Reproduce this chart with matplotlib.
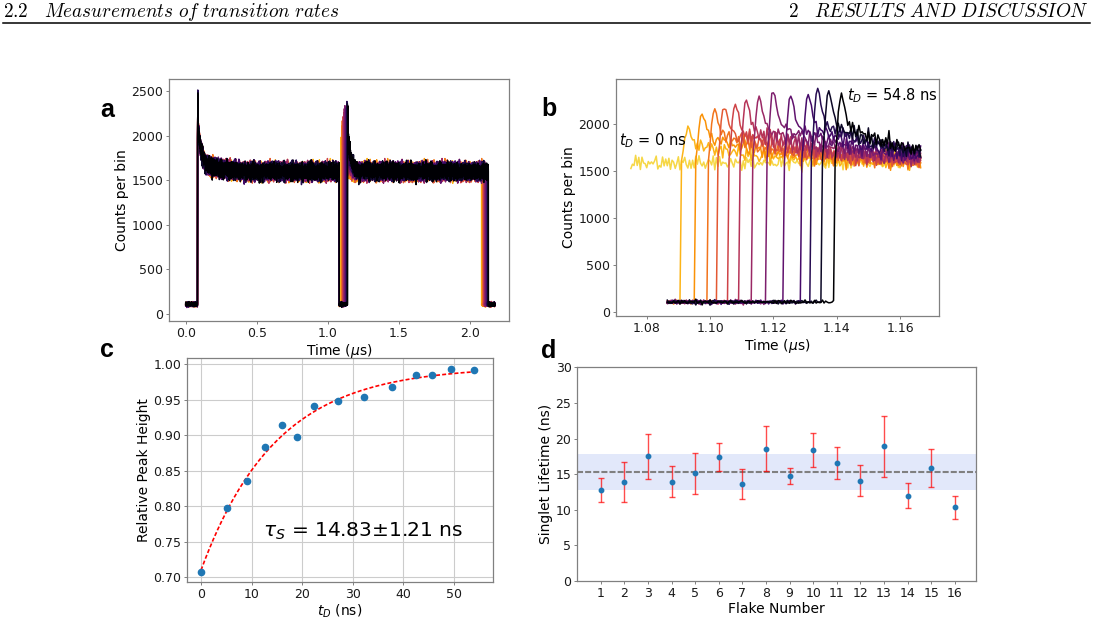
import numpy as np
import matplotlib

matplotlib.use("Agg")
import matplotlib.pyplot as plt
from matplotlib.lines import Line2D

# ---- panel c: relative peak height vs delay ----
t_delay_ns = [0.07, 5.07, 9.09, 12.58, 16.0, 19.04, 22.27, 27.14, 32.2, 37.75, 42.5, 45.65, 49.34, 54.02]
rel_peak = [0.708, 0.798, 0.835, 0.884, 0.915, 0.898, 0.941, 0.949, 0.954, 0.968, 0.985, 0.985, 0.993, 0.992]
fit_tau, fit_err, fit_amp, fit_top, fit_tmax = 14.83, 1.21, 0.287, 0.997, 54.8

# ---- panel d: singlet lifetime per flake ----
flake = list(range(1, 17))
lifetime = [12.79, 13.91, 17.50, 13.91, 15.12, 17.41, 13.67, 18.57,
            14.75, 18.39, 16.57, 14.09, 18.90, 11.99, 15.91, 10.37]
lifetime_err = [1.63, 2.83, 3.15, 2.17, 2.87, 1.90, 2.12, 3.12,
                1.17, 2.43, 2.24, 2.17, 4.27, 1.73, 2.66, 1.60]
mean_lifetime, band_lo, band_hi = 15.27, 12.72, 17.82

# ---- panels a/b: photon count traces ----
rise_us = [1.0911, 1.0955, 1.0995, 1.1027, 1.1061, 1.1093, 1.1137,
           1.1182, 1.1235, 1.1288, 1.1322, 1.1357, 1.1394]
peak_counts = [1952, 2112, 2154, 2195, 2207, 2255, 2293, 2351, 2302, 2316, 2375, 2353, 2318]
pulse1_on, pulse1_off, pulse2_len, trace_end = 0.0835, 1.080, 0.99, 2.175
peak1_counts, plateau_counts, base_counts = 2390, 1595, 105
ref_plateau = 1585
# excess above plateau after a rise, 0.5 ns bins, then 2 ns steps
spike = [0.05, 0.35, 0.7, 0.92, 1.0, 0.93, 0.8, 0.68, 0.6, 0.55, 0.51, 0.48, 0.46, 0.45, 0.44, 0.43]
tail = [0.42, 0.38, 0.345, 0.315, 0.285, 0.26, 0.235, 0.215, 0.195, 0.178, 0.162, 0.148,
        0.135, 0.123, 0.112, 0.102, 0.093, 0.085, 0.077, 0.07, 0.063, 0.057, 0.051, 0.046,
        0.041, 0.036, 0.032, 0.028, 0.024, 0.02, 0.017, 0.014, 0.011, 0.008, 0.005, 0.003, 0.0]
spike_noise = [0.2, 0.3, 0.3, 0.3, 0.3, 0.3, 0.4, 0.5, 0.6, 0.7, 0.8, 0.9]
slow1 = [90, 75, 62, 52, 44, 37, 31, 26, 21, 17, 13, 10, 7, 5, 3, 1, 0]  # 25 ns steps
noise_a = [12, -35, 48, -8, 27, -52, 5, 39, -21, -44, 18, 56, -13, 2, -38, 31, -5, 44, -29, 9,
           -57, 23, 35, -16, -3, 50, -41, 14, -25, 29, 7, -48, 40, -11, 21, -33, 53, -2, -19, 36,
           -46, 11, 25, -30, 1, 42, -14]
noise_b = [-22, 31, -9, 47, -36, 14, 3, -51, 26, 40, -17, -6, 33, -43, 19, -28, 52, -12, 8, -39,
           24, 45, -31, -1, 16, -47, 37, -20, 10, 29, -55, 21, -8, 43, -26, 6, -34, 50, -15, 13,
           34, -45, 2, 27, -37, 18, -10, 41, -24, 30, -4, -49, 15]
noise_c = [0, 0, 35, 0, 0, 0, -40, 0, 0, 0, 0, 45, 0, 0, -30, 0, 0, 0, 0, 0, 50, 0, 0, 0, -45,
           0, 0, 0, 0, 30, 0, 0, 0, -50, 0, 0, 0, 0, 0, 40, 0, 0, -35, 0, 0, 0, 0, 0, 0, 55, 0,
           0, 0, -30, 0, 0, 0, 0, 38, 0, 0]

BIN = 0.0005
t_us = np.arange(0, trace_end, BIN)
n = t_us.size
profile = np.concatenate([spike, np.repeat(tail, 4)])
slow_env = np.repeat(slow1, 50).astype(float)


def idx(x):
    return int(round(x / BIN))


def noise(s1, s2, s3):
    a = np.resize(np.roll(noise_a, s1), n)
    b = np.resize(np.roll(noise_b, s2), n)
    c = np.resize(np.roll(noise_c, s3), n)
    return 0.9 * (a + b) + c


def add_pulse(counts, scale, start, stop, peak, extra=None):
    i0, i1 = idx(start), min(idx(stop), n)
    env = np.zeros(i1 - i0)
    m = min(profile.size, env.size)
    env[:m] = profile[:m]
    seg = plateau_counts + (peak - plateau_counts) * env
    if extra is not None:
        m2 = min(extra.size, seg.size)
        seg[:m2] += extra[:m2]
    counts[i0:i1] = seg
    scale[i0:i1] = 1.0
    scale[i0:i0 + len(spike_noise)] = spike_noise


traces = []
for i, (r, p) in enumerate(zip(rise_us, peak_counts)):
    counts = np.full(n, float(base_counts))
    scale = np.full(n, 0.25)
    add_pulse(counts, scale, pulse1_on, pulse1_off, peak1_counts, slow_env)
    add_pulse(counts, scale, r, r + pulse2_len, p)
    traces.append(counts + noise(7 * i + 3, 11 * i + 5, 13 * i + 2) * scale)

ref_trace = ref_plateau + noise(40, 17, 9)

colors = plt.cm.inferno(np.linspace(0.9, 0.0, 14))

W, H = 1094, 641
fig = plt.figure(figsize=(W / 100, H / 100), dpi=100)


def box(l, t, r, b):
    return [l / W, 1 - b / H, (r - l) / W, (b - t) / H]


def style(ax, xlabel, ylabel):
    for s in ax.spines.values():
        s.set_color("#808080")
        s.set_linewidth(0.9)
    ax.tick_params(labelsize=9, color="#808080", labelcolor="#1a1a1a",
                   length=2.2, width=0.7, pad=2)
    ax.set_xlabel(xlabel, fontsize=10, labelpad=1.5)
    ax.set_ylabel(ylabel, fontsize=10, labelpad=2)


# panel a
ax_a = fig.add_axes(box(169.3, 79, 509.3, 321))
for c, tr in zip(colors[1:], traces):
    ax_a.plot(t_us, tr, color=c, lw=1.0)
ax_a.set_xlim(-0.115, 2.276)
ax_a.set_ylim(-82, 2635)
ax_a.set_xticks([0.0, 0.5, 1.0, 1.5, 2.0])
ax_a.set_yticks([0, 500, 1000, 1500, 2000, 2500])
style(ax_a, r"Time ($\mu$s)", "Counts per bin")

# panel b
ax_b = fig.add_axes(box(616, 79, 939, 316))
w_ref = (t_us >= 1.0747) & (t_us <= 1.1667)
ax_b.plot(t_us[w_ref], ref_trace[w_ref], color=colors[0], lw=1.1)
w = (t_us >= 1.0865) & (t_us <= 1.1667)
for c, tr in zip(colors[1:], traces):
    ax_b.plot(t_us[w], tr[w], color=c, lw=1.1)
ax_b.set_xlim(1.0703, 1.1723)
ax_b.set_ylim(-43, 2483)
ax_b.set_xticks([1.08, 1.10, 1.12, 1.14, 1.16])
ax_b.set_yticks([0, 500, 1000, 1500, 2000])
ax_b.text(1.0714, 1772, r"$t_D$ = 0 ns", fontsize=10.5, va="baseline")
ax_b.text(1.1433, 2259, r"$t_D$ = 54.8 ns", fontsize=10.5, va="baseline")
style(ax_b, r"Time ($\mu$s)", "Counts per bin")

# panel c
ax_c = fig.add_axes(box(187.3, 358.3, 492.7, 581.7))
t_fit = np.linspace(0, fit_tmax, 200)
ax_c.plot(t_fit, fit_top - fit_amp * np.exp(-t_fit / fit_tau), color="red",
          lw=1.2, ls=(0, (2.4, 1.3)), zorder=3)
ax_c.plot(t_delay_ns, rel_peak, "o", color="#1f77b4", ms=4.5, zorder=4)
ax_c.grid(True, color="#cccccc", lw=0.8)
ax_c.set_axisbelow(True)
ax_c.set_xlim(-2.71, 57.65)
ax_c.set_ylim(0.6938, 1.0085)
ax_c.set_xticks([0, 10, 20, 30, 40, 50])
ax_c.set_yticks([0.70, 0.75, 0.80, 0.85, 0.90, 0.95, 1.00])
ax_c.text(12.2, 0.757, rf"$\tau_S$ = {fit_tau:.2f}±{fit_err:.2f} ns", fontsize=14.5, va="baseline")
style(ax_c, r"$t_D$ (ns)", "Relative Peak Height")

# panel d
ax_d = fig.add_axes(box(577.3, 367.3, 976, 581))
ax_d.axhspan(band_lo, band_hi, color="royalblue", alpha=0.15, lw=0)
ax_d.axhline(mean_lifetime, color="grey", lw=1.5, ls=(0, (2.9, 1.0)))
ax_d.errorbar(flake, lifetime, yerr=lifetime_err, fmt="o", color="#1f77b4", ms=3.2,
              ecolor=(1, 0, 0, 0.7), elinewidth=1.0, capsize=2.5)
ax_d.set_xlim(0, 16.9)
ax_d.set_ylim(0, 30)
ax_d.set_xticks(flake)
ax_d.set_yticks([0, 5, 10, 15, 20, 25, 30])
style(ax_d, "Flake Number", "Singlet Lifetime (ns)")

# panel letters
for x, y, s in [(100, 117, "a"), (541, 116, "b"), (100, 357, "c"), (541, 358, "d")]:
    fig.text(x / W, 1 - y / H, s, fontsize=18, fontweight="bold",
             family="Liberation Sans", va="baseline")

# running header
fig.text(3 / W, 1 - 17 / H, r"$\mathrm{2.2}\quad\mathit{Measurements\ of\ transition\ rates}$",
         fontsize=13.8, math_fontfamily="cm", va="baseline")
fig.text(1089 / W, 1 - 17 / H, r"$\mathrm{2}\quad\mathit{RESULTS\ AND\ DISCUSSION}$",
         fontsize=13.8, math_fontfamily="cm", va="baseline", ha="right")
fig.add_artist(Line2D([3 / W, 1090 / W], [1 - 23 / H, 1 - 23 / H], color="black", lw=1.1))

fig.savefig("out.png", dpi=100)
